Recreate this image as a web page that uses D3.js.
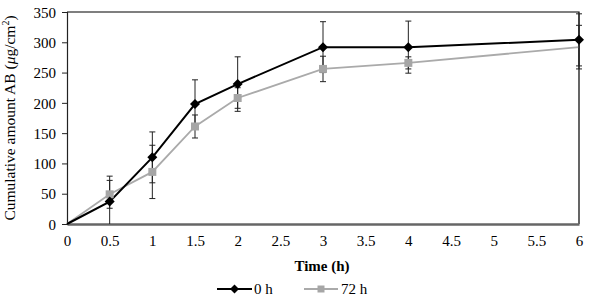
<!doctype html>
<html>
  <head>
    <meta charset="utf-8">
    <title>Cumulative amount</title>
    <script src="https://d3js.org/d3.v7.min.js"></script>
    <style>
      body { margin: 0; background: #fff; }
      svg text { font-family: "Liberation Serif", "Times New Roman", serif; }
    </style>
  </head>
  <body>
    <script>
      // 数据
      const times = [0, 0.5, 1, 1.5, 2, 3, 4, 6];
      const series0h = [0, 37, 110, 198, 231, 292, 292, 304];
      const err0h = [0, 42, 42, 40, 45, 42, 43, 43];
      const series72h = [0, 49, 86, 161, 208, 256, 266, 292];
      const err72h = [0, 23, 44, 19, 17, 21, 10, 36];
      const xTicks = [0, 0.5, 1, 1.5, 2, 2.5, 3, 3.5, 4, 4.5, 5, 5.5, 6];
      const yTicks = [0, 50, 100, 150, 200, 250, 300, 350];
      const legendLabels = ['0 h', '72 h'];

      const width = 589;
      const height = 304;
      const serif = '"Liberation Serif", "Times New Roman", serif';

      const svg = d3.select('body').append('svg')
          .attr('width', width)
          .attr('height', height)
          .style('font-family', serif);

      const x = d3.scaleLinear().domain([0, 6]).range([67, 579]);
      const y = d3.scaleLinear().domain([0, 350]).range([224, 12]);

      // 边框
      svg.append('path')
          .attr('d', `M${x(0)},${y(350)} H${x(6)} V${y(0)}`)
          .attr('fill', 'none')
          .attr('stroke', '#000')
          .attr('stroke-width', 1.2);

      // y 轴
      const yAxis = svg.append('g')
          .attr('transform', `translate(${x(0)},0)`)
          .call(d3.axisLeft(y).tickValues(yTicks).tickSize(5).tickPadding(6));
      yAxis.attr('font-family', serif).attr('font-size', 15);
      yAxis.select('.domain').attr('stroke', '#222').attr('stroke-width', 1.2);
      yAxis.selectAll('.tick line').attr('stroke', '#222');
      yAxis.selectAll('text').attr('fill', '#000').attr('dy', '0.35em');

      // x 轴
      const xAxis = svg.append('g')
          .attr('transform', `translate(0,${y(0)})`)
          .call(d3.axisBottom(x).tickValues(xTicks).tickFormat(d3.format('~g')).tickSize(0).tickPadding(11));
      xAxis.attr('font-family', serif).attr('font-size', 15);
      xAxis.select('.domain').attr('stroke', '#666').attr('stroke-width', 2.5);
      xAxis.selectAll('text').attr('fill', '#000');

      // 坐标轴标题
      svg.append('text')
          .attr('x', 322).attr('y', 271)
          .attr('text-anchor', 'middle')
          .attr('font-size', 15).attr('font-weight', 'bold')
          .text('Time (h)');

      const yTitle = svg.append('text')
          .attr('transform', 'translate(15,118) rotate(-90)')
          .attr('text-anchor', 'middle')
          .attr('font-size', 15.5);
      yTitle.append('tspan').text('Cumulative amount AB (');
      yTitle.append('tspan').attr('font-style', 'italic').text('μ');
      yTitle.append('tspan').text('g/cm');
      yTitle.append('tspan').attr('font-size', 10).attr('dy', -6).text('2');
      yTitle.append('tspan').attr('dy', 6).text(')');

      const line = d3.line().x(d => x(d[0])).y(d => y(d[1]));
      const diamondPath = s => `M0,${-s}L${s},0L0,${s}L${-s},0Z`;
      const squarePath = s => `M${-s},${-s}H${s}V${s}H${-s}Z`;

      function errorBars(vals, errs) {
        const g = svg.append('g');
        times.forEach((t, i) => {
          if (!errs[i]) return;
          const top = y(vals[i] + errs[i]);
          const bot = Math.min(y(vals[i] - errs[i]), y(0));
          const cx = x(t);
          g.append('path')
              .attr('d', `M${cx},${top} V${bot} M${cx - 3},${top} H${cx + 3}` +
                (vals[i] - errs[i] > 0 ? ` M${cx - 3},${bot} H${cx + 3}` : ''))
              .attr('stroke', '#222')
              .attr('stroke-width', 1)
              .attr('fill', 'none');
        });
      }

      // 72 h 系列
      const d72 = times.map((t, i) => [t, series72h[i]]);
      svg.append('path')
          .attr('d', line(d72))
          .attr('fill', 'none')
          .attr('stroke', '#aaa')
          .attr('stroke-width', 1.8);

      // 0 h 系列
      const d0 = times.map((t, i) => [t, series0h[i]]);
      svg.append('path')
          .attr('d', line(d0))
          .attr('fill', 'none')
          .attr('stroke', '#000')
          .attr('stroke-width', 2);

      errorBars(series72h, err72h);
      errorBars(series0h, err0h);

      svg.append('g').selectAll('path')
        .data(d72.filter(d => d[0] > 0 && d[0] < 6))
        .join('path')
          .attr('transform', d => `translate(${x(d[0])},${y(d[1])})`)
          .attr('d', squarePath(4))
          .attr('fill', '#a6a6a6');

      svg.append('g').selectAll('path')
        .data(d0.filter(d => d[0] > 0))
        .join('path')
          .attr('transform', d => `translate(${x(d[0])},${y(d[1])})`)
          .attr('d', diamondPath(5))
          .attr('fill', '#000');

      // 图例
      const legend = svg.append('g').attr('transform', 'translate(0,289)');
      legend.append('line').attr('x1', 217).attr('x2', 252).attr('stroke', '#000').attr('stroke-width', 2);
      legend.append('path').attr('transform', 'translate(234.5,0)')
          .attr('d', diamondPath(4.5)).attr('fill', '#000');
      legend.append('text').attr('x', 254).attr('y', 5).attr('font-size', 15).text(legendLabels[0]);
      legend.append('line').attr('x1', 304).attr('x2', 338).attr('stroke', '#aaa').attr('stroke-width', 1.8);
      legend.append('path').attr('transform', 'translate(321,0)')
          .attr('d', squarePath(3.5)).attr('fill', '#a6a6a6');
      legend.append('text').attr('x', 341).attr('y', 5).attr('font-size', 15).text(legendLabels[1]);
    </script>
  </body>
</html>
